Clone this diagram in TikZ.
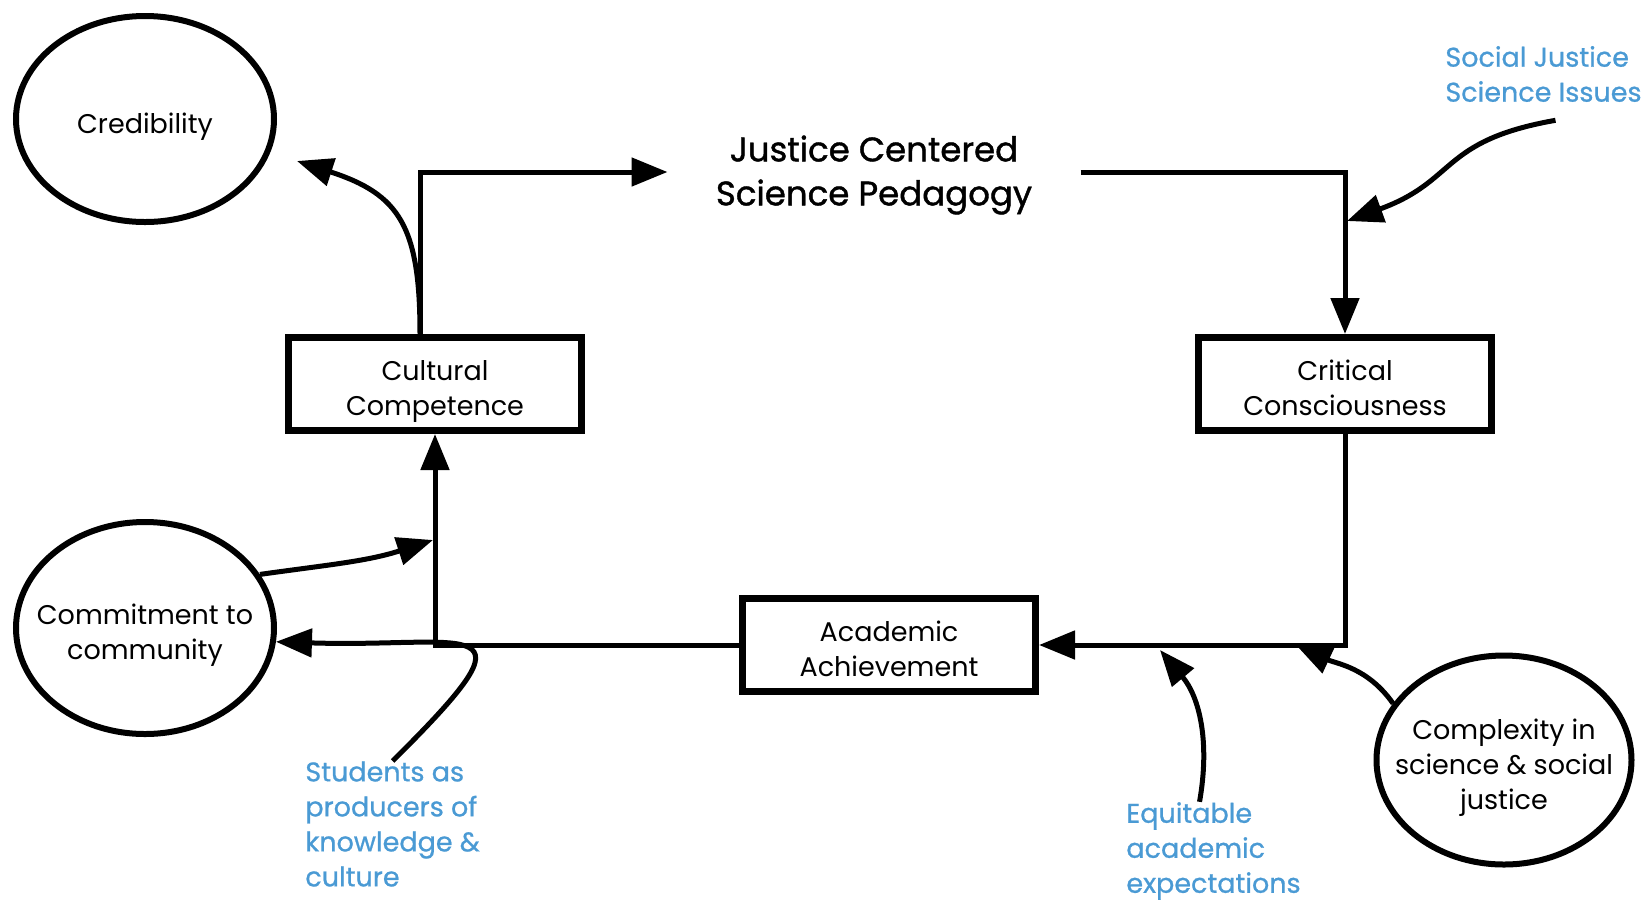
\documentclass[tikz,border=0pt]{standalone}
\usepackage{fontspec}
\setmainfont{Poppins}
\newfontfamily\headfont{Poppins}[FakeBold=1.2]
\newfontfamily\notefont{Poppins}[FakeBold=0.8]
\usetikzlibrary{shapes.geometric,arrows.meta}
\definecolor{noteblue}{RGB}{74,154,212}
\newcommand{\firstline}{\rule{0pt}{17.5pt}}

\tikzset{
  box/.style={draw, line width=3.5pt, minimum width=146.5pt, minimum height=46.5pt,
    execute at end node={\rule[-4pt]{0pt}{4pt}},
    align=center, font=\fontsize{13.5}{17.5}\selectfont},
  bubble/.style={draw, ellipse, line width=3pt, inner sep=-20pt,
    align=center, font=\fontsize{13.5}{17.5}\selectfont},
  note/.style={text=noteblue, align=left, anchor=west, inner sep=0pt,
    font=\notefont\fontsize{13.5}{17.5}\selectfont},
  arr/.style={line width=2.5pt, -{Triangle[length=18pt,width=14pt]}}
}

\begin{document}
\begin{tikzpicture}[x=0.5pt, y=0.5pt]
  \useasboundingbox (0,0) rectangle (1650,-901);

  \node[bubble, minimum width=129pt, minimum height=103pt] at (145,-119) (cred) {\firstline Credibility};
  \node[bubble, minimum width=129pt, minimum height=106pt] at (145,-628) (comm) {\firstline Commitment to\\community};
  \node[bubble, minimum width=127.5pt, minimum height=104.5pt] at (1504,-760) (cplx) {\firstline Complexity in\\science \& social\\justice};

  \node[box] at (435,-384) (cult) {\firstline Cultural\\Competence};
  \node[box] at (1345,-384) (crit) {\firstline Critical\\Consciousness};
  \node[box] at (889,-645) (acad) {\firstline Academic\\Achievement};

  \node[align=center, inner xsep=24pt, yshift=-1.5pt,
    font=\headfont\fontsize{17}{22}\selectfont] at (874,-172) (jcsp)
    {Justice Centered\\Science Pedagogy};

  \node[note] at (1445,-74) (sjs) {Social Justice\\Science Issues};
  \node[note] at (305,-824) (stu) {Students as\\producers of\\knowledge \&\\culture};
  \node[note] at (1126,-851) (eq) {Equitable\\academic\\expectations};

  \coordinate (credin) at (297,-161);
  \coordinate (sjsin) at (1347,-221);
  \coordinate (commin) at (433,-540);
  \coordinate (eqin) at (1160,-650);
  \coordinate (cplxin) at (1296,-645);

  \draw[arr] ([xshift=-7.5pt]cult.north) |- ([yshift=1.5pt]jcsp.west);
  \draw[arr] ([xshift=-7.5pt]cult.north) to[out=90,in=-18,looseness=1.3] (credin);
  \draw[arr] ([yshift=1.5pt]jcsp.east) -| (crit.north);
  \draw[arr] ([shift={(6pt,-9pt)}]sjs.south) to[out=190,in=20,looseness=1.3] (sjsin);

  \draw[arr] (crit.south) |- (acad.east);
  \draw[arr] (acad.west) -| (cult.south);

  \draw[arr] (comm.25) to[out=8,in=198] (commin);
  \draw[arr] (stu.north) .. controls (545,-610) and (470,-648) .. (comm.-6);
  \draw[arr] ([xshift=-7pt]eq.north) to[out=80,in=-50] (eqin);
  \draw[arr] (cplx.153) to[out=125,in=-25] (cplxin);
\end{tikzpicture}
\end{document}
